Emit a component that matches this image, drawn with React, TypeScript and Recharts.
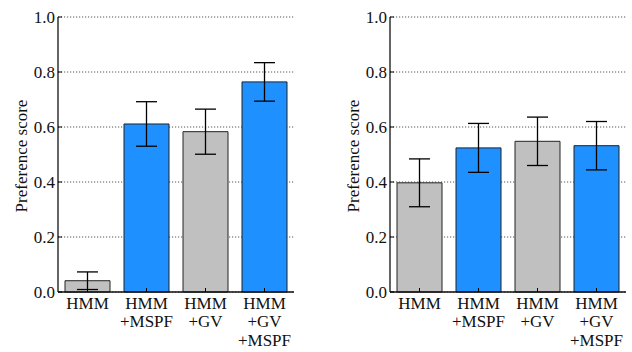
import { BarChart, Bar, Cell, XAxis, YAxis, CartesianGrid, ErrorBar, Label } from 'recharts';

const categories = ['HMM', 'HMM\n+MSPF', 'HMM\n+GV', 'HMM\n+GV\n+MSPF'];
const barColors = ['#c0c0c0', '#1e90ff', '#c0c0c0', '#1e90ff'];

const leftScores = [0.041, 0.611, 0.583, 0.764];
const leftErrors = [0.032, 0.081, 0.082, 0.07];

const rightScores = [0.397, 0.524, 0.548, 0.532];
const rightErrors = [0.087, 0.089, 0.088, 0.088];

const yTicks = [0, 0.2, 0.4, 0.6, 0.8, 1.0];

const FONT = '"Liberation Serif", "Times New Roman", serif';
const FS = 17;
const textStyle = { fontFamily: FONT, fontSize: FS, fill: '#111' };

const YTick = ({ x, y, payload }: any) => (
  <g>
    <line x1={x + 3} x2={x + 7} y1={y} y2={y} stroke="#000" strokeWidth={1} />
    <text x={x} y={y + 6} textAnchor="end" style={textStyle}>
      {Number(payload.value).toFixed(1)}
    </text>
  </g>
);

const RightTick = ({ x, y }: any) => (
  <line x1={x - 4} x2={x} y1={y} y2={y} stroke="#000" strokeWidth={1} />
);

// multi-line category labels, tight line spacing like the original
const XTick = ({ x, y, payload }: any) => {
  const lines = String(payload.value).split('\n');
  return (
    <g>
      <line x1={x} x2={x} y1={y - 4} y2={y} stroke="#000" strokeWidth={1} />
      {lines.map((l, i) => (
        <text key={i} x={x} y={y + 16.5 + i * 18.8} textAnchor="middle" style={textStyle}>
          {l}
        </text>
      ))}
    </g>
  );
};

const TopTick = ({ x, y }: any) => (
  <line x1={x} x2={x} y1={y} y2={y + 4} stroke="#000" strokeWidth={1} />
);

function Panel({ scores, errors, yWidth, right, labelX }: any) {
  const data = categories.map((name, i) => ({ name, score: scores[i], err: errors[i] }));
  return (
    <BarChart
      width={316}
      height={352}
      data={data}
      margin={{ top: 17, right, left: 0, bottom: 0 }}
    >
      <CartesianGrid vertical={false} stroke="#555" strokeDasharray="1.2 1.8" />
      <XAxis
        dataKey="name"
        height={60}
        tickSize={0}
        tickMargin={0}
        tickLine={false}
        axisLine={{ stroke: '#111', strokeWidth: 1.3 }}
        tick={<XTick />}
        interval={0}
      />
      <XAxis
        xAxisId="top"
        dataKey="name"
        orientation="top"
        height={0}
        tickSize={0}
        tickMargin={0}
        tickLine={false}
        axisLine={{ stroke: '#333', strokeWidth: 1.3 }}
        tick={<TopTick />}
        interval={0}
      />
      <YAxis
        domain={[0, 1]}
        ticks={yTicks}
        width={yWidth}
        tickSize={0}
        tickMargin={3}
        tickLine={false}
        axisLine={{ stroke: '#111', strokeWidth: 1.3 }}
        tick={<YTick />}
        interval={0}
      >
        <Label
          content={() => (
            <text
              x={labelX}
              y={156}
              transform={`rotate(-90 ${labelX} 156)`}
              textAnchor="middle"
              dominantBaseline="central"
              style={textStyle}
            >
              Preference score
            </text>
          )}
        />
      </YAxis>
      <YAxis
        yAxisId="r"
        orientation="right"
        domain={[0, 1]}
        ticks={yTicks}
        width={0}
        tickSize={0}
        tickMargin={0}
        tickLine={false}
        axisLine={{ stroke: '#777', strokeWidth: 1.3 }}
        tick={<RightTick />}
        interval={0}
      />
      <Bar dataKey="score" barSize={45} stroke="#222" strokeWidth={1} isAnimationActive={false}>
        {data.map((_, i) => (
          <Cell key={i} fill={barColors[i]} />
        ))}
        <ErrorBar dataKey="err" width={10.5} stroke="#000" strokeWidth={1.3} isAnimationActive={false} />
      </Bar>
    </BarChart>
  );
}

export default function App() {
  return (
    <div style={{ position: 'absolute', left: 0, top: 0, width: 632, height: 352, background: '#fff' }}>
      <div style={{ position: 'absolute', left: 0, top: 0 }}>
        <Panel scores={leftScores} errors={leftErrors} yWidth={58} right={22} labelX={21} />
      </div>
      <div style={{ position: 'absolute', left: 316, top: 0 }}>
        <Panel scores={rightScores} errors={rightErrors} yWidth={74} right={6} labelX={37} />
      </div>
    </div>
  );
}
